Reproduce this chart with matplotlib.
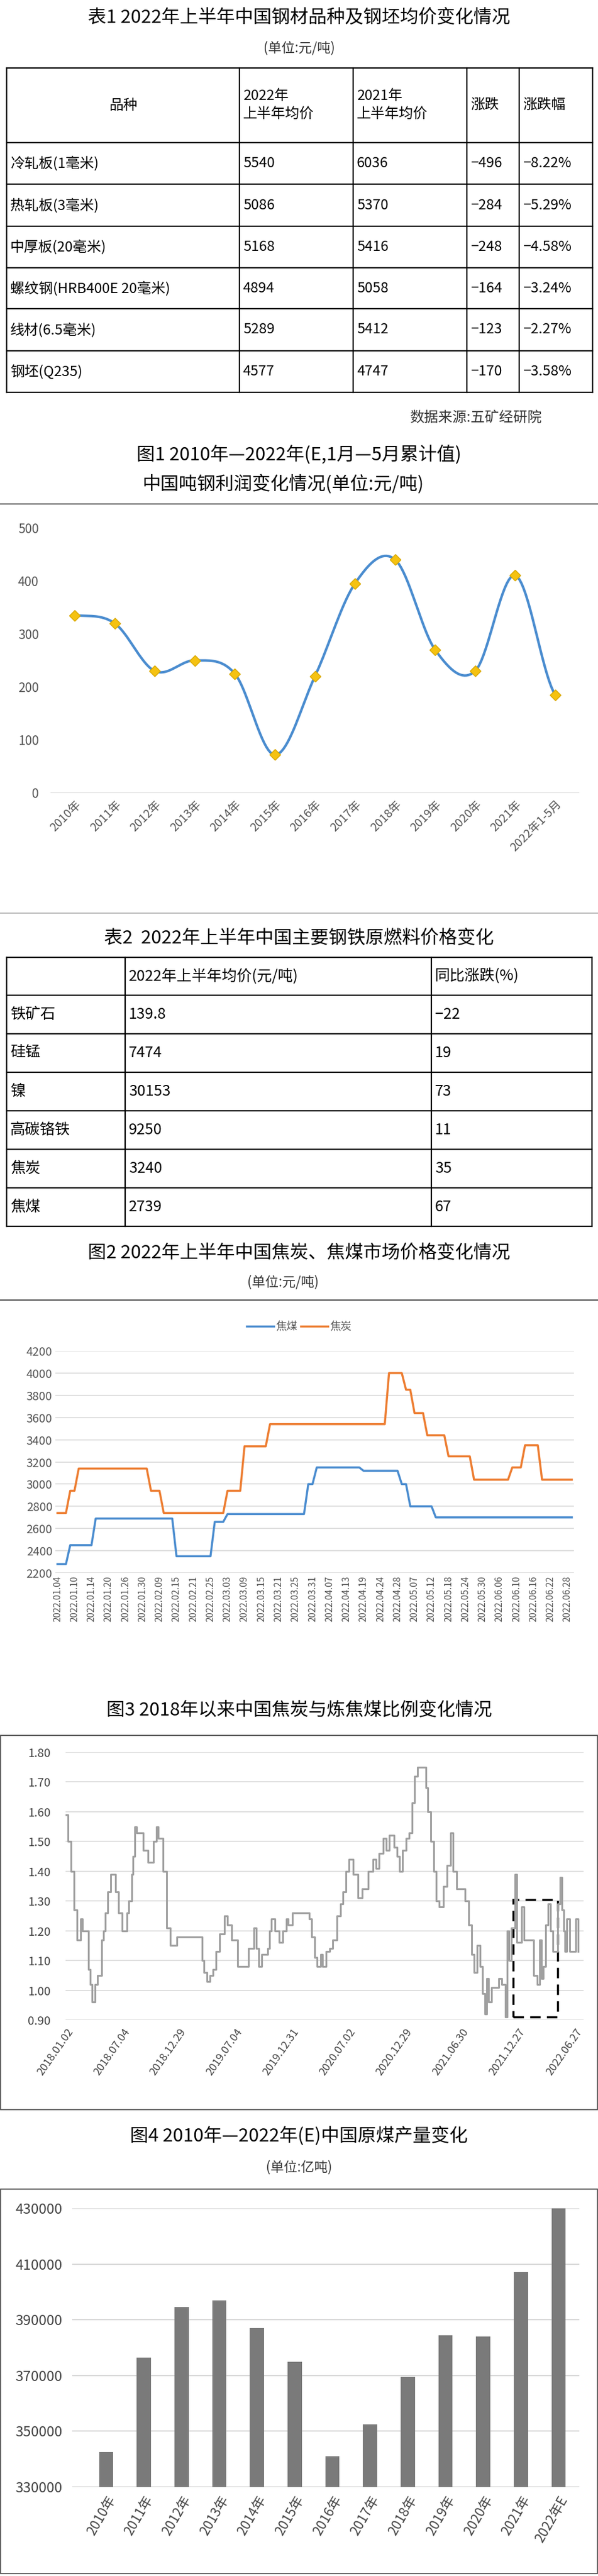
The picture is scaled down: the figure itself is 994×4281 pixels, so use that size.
import numpy as np
import matplotlib
matplotlib.use("Agg")
import matplotlib.pyplot as plt
from matplotlib.patches import Rectangle
from matplotlib.lines import Line2D

plt.rcParams["font.family"] = ["Noto Sans CJK SC", "DejaVu Sans"]

W, H = 994, 4281

# ---- table 1 ----
t1_header = ["品种", "2022年\n上半年均价", "2021年\n上半年均价", "涨跌", "涨跌幅"]
t1_items = ["冷轧板(1毫米)", "热轧板(3毫米)", "中厚板(20毫米)", "螺纹钢(HRB400E 20毫米)", "线材(6.5毫米)", "钢坯(Q235)"]
t1_2022 = ["5540", "5086", "5168", "4894", "5289", "4577"]
t1_2021 = ["6036", "5370", "5416", "5058", "5412", "4747"]
t1_change = ["−496", "−284", "−248", "−164", "−123", "−170"]
t1_pct = ["−8.22%", "−5.29%", "−4.58%", "−3.24%", "−2.27%", "−3.58%"]

# ---- figure 1 ----
f1_years = ["2010年", "2011年", "2012年", "2013年", "2014年", "2015年", "2016年",
            "2017年", "2018年", "2019年", "2020年", "2021年", "2022年1-5月"]
f1_profit = [335, 320, 230, 250, 225, 72, 220, 395, 440, 270, 230, 410, 185]

# ---- table 2 ----
t2_header = ["", "2022年上半年均价(元/吨)", "同比涨跌(%)"]
t2_items = ["铁矿石", "硅锰", "镍", "高碳铬铁", "焦炭", "焦煤"]
t2_price = ["139.8", "7474", "30153", "9250", "3240", "2739"]
t2_yoy = ["−22", "19", "73", "11", "35", "67"]

# ---- figure 2 (step segments: start index, value) ----
f2_dates = ["2022.01.04", "2022.01.10", "2022.01.14", "2022.01.20", "2022.01.26", "2022.01.30",
            "2022.02.09", "2022.02.15", "2022.02.21", "2022.02.25", "2022.03.03", "2022.03.09",
            "2022.03.15", "2022.03.21", "2022.03.25", "2022.03.31", "2022.04.07", "2022.04.13",
            "2022.04.19", "2022.04.24", "2022.04.28", "2022.05.07", "2022.05.12", "2022.05.18",
            "2022.05.24", "2022.05.30", "2022.06.06", "2022.06.10", "2022.06.16", "2022.06.22",
            "2022.06.28"]
f2_coal_start = [0, 3, 9, 28, 37, 40, 59, 61, 72, 81, 83, 89]
f2_coal_value = [2280, 2450, 2690, 2350, 2660, 2730, 3000, 3150, 3120, 3000, 2800, 2700]
f2_coke_start = [0, 3, 5, 22, 25, 40, 44, 50, 78, 82, 84, 87, 92, 98, 107, 110, 114]
f2_coke_value = [2740, 2940, 3140, 2940, 2740, 2940, 3340, 3540, 4000, 3850, 3640, 3440,
                 3250, 3040, 3150, 3350, 3040]
f2_n = 122

# ---- figure 3 (trading-day position, ratio) ----
f3_day = [0, 5, 13, 20, 28, 38, 43, 58, 63, 68, 76, 83, 93, 98, 103, 110, 118, 123, 130, 138,
          148, 156, 161, 165, 173, 176, 181, 186, 196, 203, 216, 223, 230, 238, 243, 250, 256,
          265, 270, 276, 293, 303, 356, 360, 365, 373, 380, 388, 396, 406, 418, 426, 438, 453,
          465, 483, 488, 496, 503, 510, 518, 533, 538, 543, 553, 563, 573, 583, 588, 598, 643,
          650, 658, 664, 673, 678, 688, 698, 706, 716, 726, 733, 740, 748, 760, 773, 783, 793,
          800, 813, 820, 828, 840, 848, 856, 868, 876, 883, 890, 900, 908, 916, 923, 930, 946,
          953, 958, 966, 973, 980, 988, 998, 1008, 1018, 1025, 1033, 1048, 1056, 1066, 1073,
          1080, 1088, 1096, 1103, 1108, 1113, 1118, 1126, 1138, 1146, 1153, 1158, 1163, 1168,
          1173, 1178, 1183, 1188, 1193, 1206, 1213, 1226, 1238, 1248, 1253, 1258, 1263, 1270,
          1276, 1283, 1288, 1293, 1301, 1308, 1313, 1318, 1320, 1326, 1333, 1338, 1343, 1350, 1356]
f3_ratio = [1.59, 1.50, 1.40, 1.27, 1.17, 1.24, 1.20, 1.07, 1.02, 0.96, 1.02, 1.05, 1.17, 1.20,
            1.26, 1.33, 1.39, 1.39, 1.33, 1.26, 1.20, 1.20, 1.26, 1.30, 1.39, 1.45, 1.55, 1.53,
            1.53, 1.47, 1.43, 1.43, 1.50, 1.55, 1.51, 1.51, 1.40, 1.21, 1.21, 1.15, 1.18, 1.18,
            1.18, 1.10, 1.06, 1.03, 1.05, 1.07, 1.13, 1.19, 1.25, 1.22, 1.17, 1.08, 1.08, 1.14,
            1.14, 1.21, 1.14, 1.08, 1.12, 1.14, 1.20, 1.24, 1.20, 1.16, 1.20, 1.24, 1.22, 1.26,
            1.24, 1.18, 1.11, 1.08, 1.12, 1.08, 1.13, 1.14, 1.17, 1.25, 1.29, 1.33, 1.40, 1.44,
            1.39, 1.31, 1.34, 1.34, 1.40, 1.44, 1.41, 1.46, 1.51, 1.47, 1.52, 1.48, 1.45, 1.40,
            1.47, 1.51, 1.53, 1.63, 1.72, 1.75, 1.75, 1.68, 1.60, 1.50, 1.40, 1.30, 1.28, 1.35,
            1.42, 1.53, 1.40, 1.34, 1.34, 1.30, 1.22, 1.12, 1.06, 1.15, 1.08, 0.99, 0.92, 1.04,
            0.96, 1.01, 1.01, 1.04, 1.02, 1.02, 0.91, 1.20, 1.10, 1.21, 1.21, 1.39, 1.16, 1.28,
            1.17, 1.17, 1.05, 1.02, 1.17, 1.04, 1.08, 1.22, 1.29, 1.20, 1.13, 1.13, 1.29, 1.38,
            1.27, 1.20, 1.13, 1.24, 1.13, 1.13, 1.13, 1.24, 1.13]
f3_tick_day = [0, 150, 298, 448, 598, 748, 898, 1048, 1198, 1348]
f3_tick_label = ["2018.01.02", "2018.07.04", "2018.12.29", "2019.07.04", "2019.12.31",
                 "2020.07.02", "2020.12.29", "2021.06.30", "2021.12.27", "2022.06.27"]

# ---- figure 4 ----
f4_years = ["2010年", "2011年", "2012年", "2013年", "2014年", "2015年", "2016年",
            "2017年", "2018年", "2019年", "2020年", "2021年", "2022年E"]
f4_output = [342500, 376500, 394500, 397000, 387000, 375000, 341000, 352500, 369500,
             384500, 384000, 407000, 430000]

fig = plt.figure(figsize=(W / 100, H / 100), dpi=100)


def ftext(x, y, s, **kw):
    fig.text(x / W, 1 - y / H, s, **kw)


def add_ax(l, t, r, b):
    return fig.add_axes([l / W, 1 - b / H, (r - l) / W, (b - t) / H])


def hline(y, x0=0, x1=W, lw=1.0, color="black"):
    fig.add_artist(Line2D([x0 / W, x1 / W], [1 - y / H, 1 - y / H], lw=lw, color=color))


def vline(x, y0, y1, lw=1.0, color="black"):
    fig.add_artist(Line2D([x / W, x / W], [1 - y0 / H, 1 - y1 / H], lw=lw, color=color))


def frame(l, t, r, b, lw=1.0, color="#444444"):
    fig.add_artist(Rectangle((l / W, 1 - b / H), (r - l) / W, (b - t) / H, fill=False,
                             lw=lw, ec=color, transform=fig.transFigure))


def draw_table(cols, rows_y, cells, fs=16, header_center=None):
    for y in rows_y:
        hline(y, cols[0], cols[-1], lw=1.6)
    for x in cols:
        vline(x, rows_y[0], rows_y[-1], lw=1.6)
    for r, row in enumerate(cells):
        yc = (rows_y[r] + rows_y[r + 1]) / 2
        for c, s in enumerate(row):
            if header_center and r == 0 and c in header_center:
                ftext((cols[c] + cols[c + 1]) / 2, yc, s, ha="center", va="center", fontsize=fs)
            else:
                ftext(cols[c] + 6, yc, s, ha="left", va="center", fontsize=fs, linespacing=1.4)


# table 1
ftext(497, 30, "表1 2022年上半年中国钢材品种及钢坯均价变化情况", ha="center", va="center", fontsize=22)
ftext(497, 80, "(单位:元/吨)", ha="center", va="center", fontsize=16, color="#333333")
t1_rows = [t1_header] + [[a, b, c, d, e] for a, b, c, d, e in
                         zip(t1_items, t1_2022, t1_2021, t1_change, t1_pct)]
draw_table([11, 398, 587, 776, 863, 985], [113, 237, 306, 376, 445, 513, 583, 652], t1_rows,
           fs=17, header_center=[0])
ftext(900, 694, "数据来源:五矿经研院", ha="right", va="center", fontsize=17, color="#333333")

# figure 1
ftext(497, 756, "图1 2010年—2022年(E,1月—5月累计值)", ha="center", va="center", fontsize=22)
ftext(470, 805, "中国吨钢利润变化情况(单位:元/吨)", ha="center", va="center", fontsize=22)
hline(837, lw=1.0)
ax1 = add_ax(84, 877, 963, 1318)
x1 = np.arange(len(f1_profit))
# smooth line through the points (Catmull-Rom, like Excel's smoothed line)
p = np.array(f1_profit, float)
pp = np.concatenate([[p[0]], p, [p[-1]]])
xs, ys = [], []
for i in range(len(p) - 1):
    t = np.linspace(0, 1, 20)
    p0, p1, p2, p3 = pp[i], pp[i + 1], pp[i + 2], pp[i + 3]
    yv = 0.5 * ((2 * p1) + (-p0 + p2) * t + (2 * p0 - 5 * p1 + 4 * p2 - p3) * t ** 2
                + (-p0 + 3 * p1 - 3 * p2 + p3) * t ** 3)
    xs.extend(i + t)
    ys.extend(yv)
ax1.plot(xs, ys, color="#4a8ccf", lw=3)
ax1.plot(x1, f1_profit, ls="none", marker="D", ms=9, mfc="#f5c211", mec="#d9a800")
ax1.set_ylim(0, 500)
ax1.set_xlim(-0.6, len(f1_profit) - 0.4)
ax1.set_yticks(range(0, 501, 100))
ax1.set_xticks(x1)
ax1.set_xticklabels(f1_years, rotation=45, ha="right", rotation_mode="anchor", fontsize=14,
                    color="#555555")
ax1.tick_params(axis="y", labelsize=15, labelcolor="#555555", length=0, pad=14)
ax1.tick_params(axis="x", length=0, pad=6)
for s in ax1.spines.values():
    s.set_visible(False)
ax1.axhline(0, color="#d9d9d9", lw=1.5)
hline(1517, lw=1.0, color="#999999")

# table 2
ftext(497, 1560, "表2  2022年上半年中国主要钢铁原燃料价格变化", ha="center", va="center", fontsize=22)
t2_rows = [t2_header] + [[a, b, c] for a, b, c in zip(t2_items, t2_price, t2_yoy)]
draw_table([11, 208, 717, 984], [1591, 1654, 1718, 1782, 1846, 1910, 1974, 2038], t2_rows, fs=18)

# figure 2
ftext(497, 2083, "图2 2022年上半年中国焦炭、焦煤市场价格变化情况", ha="center", va="center", fontsize=22)
ftext(470, 2131, "(单位:元/吨)", ha="center", va="center", fontsize=16, color="#333333")
hline(2160, lw=1.0)
ax2 = add_ax(92, 2245, 954, 2614)
coal = np.empty(f2_n)
for s, v in zip(f2_coal_start, f2_coal_value):
    coal[s:] = v
coke = np.empty(f2_n)
for s, v in zip(f2_coke_start, f2_coke_value):
    coke[s:] = v
ax2.plot(np.arange(f2_n), coal, color="#4a8ccf", lw=2.5, label="焦煤")
ax2.plot(np.arange(f2_n), coke, color="#ed7d31", lw=2.5, label="焦炭")
ax2.set_ylim(2200, 4200)
ax2.set_xlim(-0.5, f2_n - 0.5)
ax2.set_yticks(range(2200, 4201, 200))
ax2.set_xticks(np.arange(len(f2_dates)) * 4)
ax2.set_xticklabels(f2_dates, rotation=90, fontsize=11, color="#555555")
ax2.tick_params(axis="y", labelsize=14, labelcolor="#555555", length=0)
ax2.tick_params(axis="x", length=0)
ax2.grid(axis="y", color="#d9d9d9", lw=1.2)
ax2.set_axisbelow(True)
for s in ax2.spines.values():
    s.set_visible(False)
ax2.legend(loc="lower center", bbox_to_anchor=(0.47, 1.04), ncol=2, frameon=False, fontsize=13,
           handlelength=2.5, columnspacing=0.3, handletextpad=0.2, labelcolor="#555555")

# figure 3
ftext(497, 2843, "图3 2018年以来中国焦炭与炼焦煤比例变化情况", ha="center", va="center", fontsize=22)
frame(1, 2884, 993, 3506, lw=1.2)
ax3 = add_ax(109, 2912, 970, 3357)
n3 = min(len(f3_day), len(f3_ratio))
ax3.step(f3_day[:n3], f3_ratio[:n3], where="post", color="#a0a0a0", lw=2.2)
ax3.set_ylim(0.9, 1.8)
ax3.set_xlim(-2, 1370)
ax3.set_yticks(np.arange(0.9, 1.81, 0.1))
ax3.set_yticklabels([f"{v:.2f}" for v in np.arange(0.9, 1.81, 0.1)])
ax3.set_xticks(f3_tick_day)
ax3.set_xticklabels(f3_tick_label, rotation=55, ha="right", rotation_mode="anchor", fontsize=13,
                    color="#444444")
ax3.tick_params(axis="y", labelsize=14, labelcolor="#444444", length=0, pad=18)
ax3.tick_params(axis="x", length=0, pad=8)
ax3.grid(axis="y", color="#d9d9d9", lw=1.2)
ax3.set_axisbelow(True)
for s in ax3.spines.values():
    s.set_visible(False)
ax3.add_patch(Rectangle((1184, 0.91), 118, 0.395, fill=False, ec="black", lw=2.5, ls=(0, (5, 3))))

# figure 4
ftext(497, 3550, "图4 2010年—2022年(E)中国原煤产量变化", ha="center", va="center", fontsize=22)
ftext(497, 3602, "(单位:亿吨)", ha="center", va="center", fontsize=16, color="#333333")
frame(1, 3638, 993, 4277, lw=1.2)
ax4 = add_ax(120, 3670, 963, 4133)
x4 = np.arange(len(f4_output))
ax4.bar(x4, f4_output, width=0.38, color="#7a7a7a")
ax4.set_ylim(330000, 430000)
ax4.set_xlim(-0.9, len(f4_output) - 0.45)
ax4.set_yticks(range(330000, 430001, 20000))
ax4.set_xticks(x4)
ax4.set_xticklabels(f4_years, rotation=60, ha="right", rotation_mode="anchor", fontsize=16,
                    color="#444444")
ax4.tick_params(axis="y", labelsize=17, labelcolor="#444444", length=0, pad=12)
ax4.tick_params(axis="x", length=0, pad=8)
ax4.grid(axis="y", color="#d0d0d0", lw=1.2)
ax4.set_axisbelow(True)
for s in ax4.spines.values():
    s.set_visible(False)

fig.savefig("out.png", dpi=100)
